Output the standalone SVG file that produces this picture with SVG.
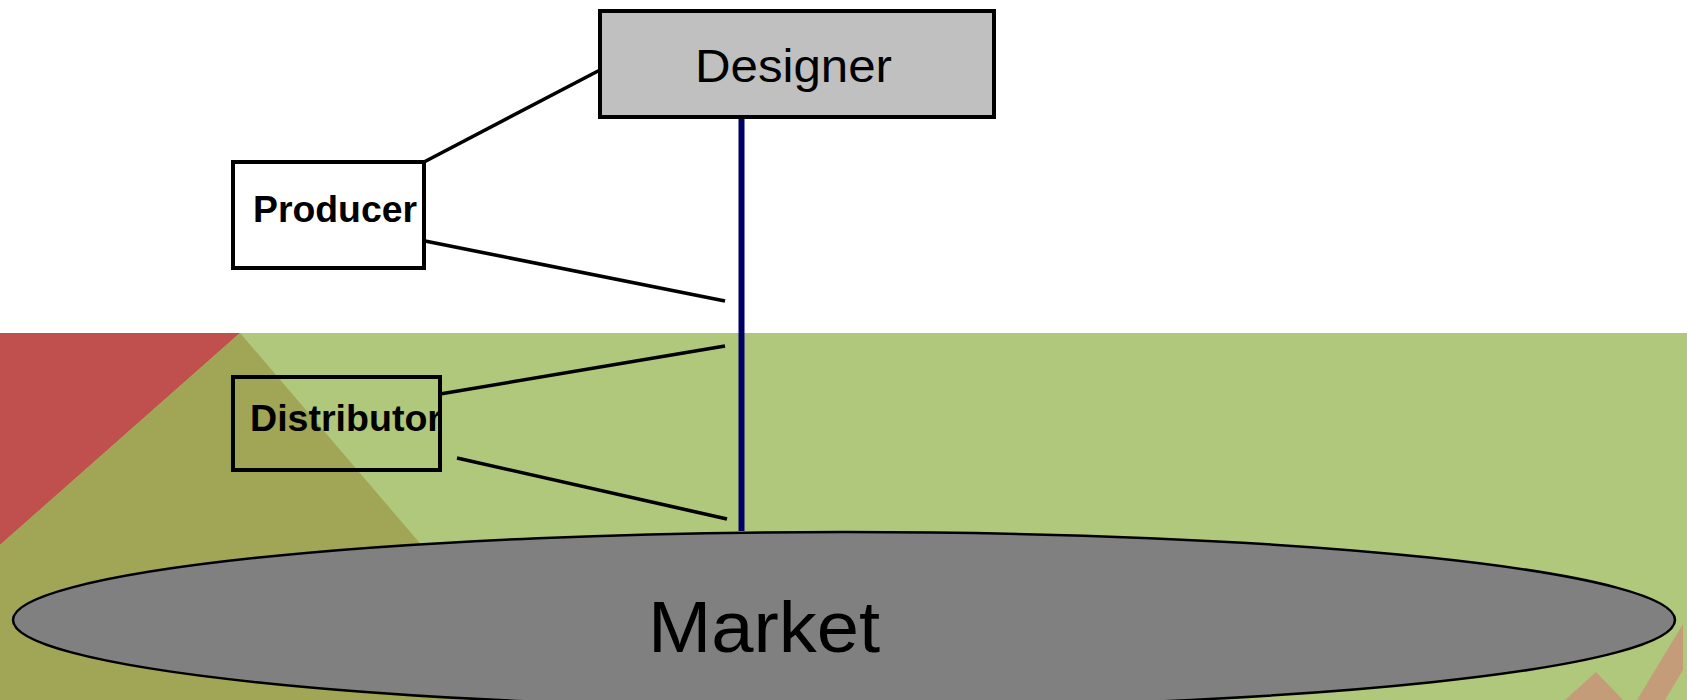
<svg xmlns="http://www.w3.org/2000/svg" width="1687" height="700" viewBox="0 0 1687 700">
  <style>
    .box { stroke: #000; stroke-width: 4; }
    .lbl { font-family: "Liberation Sans", Arial, sans-serif; fill: #000; }
    .bold { font-weight: bold; font-size: 37px; }
    .link { stroke: #000; stroke-width: 3.6; fill: none; }
  </style>
  <!-- background scene -->
  <g id="background">
    <rect x="0" y="0" width="1687" height="700" fill="#ffffff"/>
    <rect x="0" y="333" width="1687" height="367" fill="#b0c87b"/>
    <polygon points="0,333 240,333 0,545" fill="#c0504d"/>
    <polygon points="240,333 554,700 0,700 0,545" fill="#a1a556"/>
    <polygon points="1565,700 1596,672 1623,700" fill="#c59c7a"/>
    <polygon points="1683,624 1683,670 1665,700 1637,700" fill="#c59c7a"/>
  </g>
  <!-- market base -->
  <g id="market">
    <ellipse cx="844" cy="620" rx="831" ry="88" fill="#808080" stroke="#000" stroke-width="2.5"/>
    <text class="lbl" x="648" y="652" font-size="72" textLength="232" lengthAdjust="spacingAndGlyphs">Market</text>
  </g>
  <!-- connectors -->
  <g id="connectors">
    <line class="link" x1="424" y1="162" x2="600" y2="70" stroke-width="4"/>
    <line class="link" x1="425" y1="241" x2="725" y2="301"/>
    <line class="link" x1="440" y1="394" x2="725" y2="346"/>
    <line class="link" x1="457" y1="458" x2="727" y2="519"/>
    <line x1="741.5" y1="114" x2="741.5" y2="531" stroke="#000066" stroke-width="6"/>
  </g>
  <g id="designer">
    <rect class="box" x="600" y="11" width="394" height="106" fill="#c0c0c0" stroke-width="4.5"/>
    <text class="lbl" x="695" y="82" font-size="46" textLength="197" lengthAdjust="spacingAndGlyphs" fill="#1a1a1a">Designer</text>
  </g>
  <g id="producer">
    <rect class="box" x="233" y="162" width="191" height="106" fill="#ffffff"/>
    <text class="lbl bold" x="253" y="222" textLength="164" lengthAdjust="spacingAndGlyphs">Producer</text>
  </g>
  <g id="distributor">
    <rect class="box" x="233" y="377" width="207" height="93" fill="none"/>
    <text class="lbl bold" x="250" y="431" textLength="192" lengthAdjust="spacingAndGlyphs">Distributor</text>
  </g>
</svg>
